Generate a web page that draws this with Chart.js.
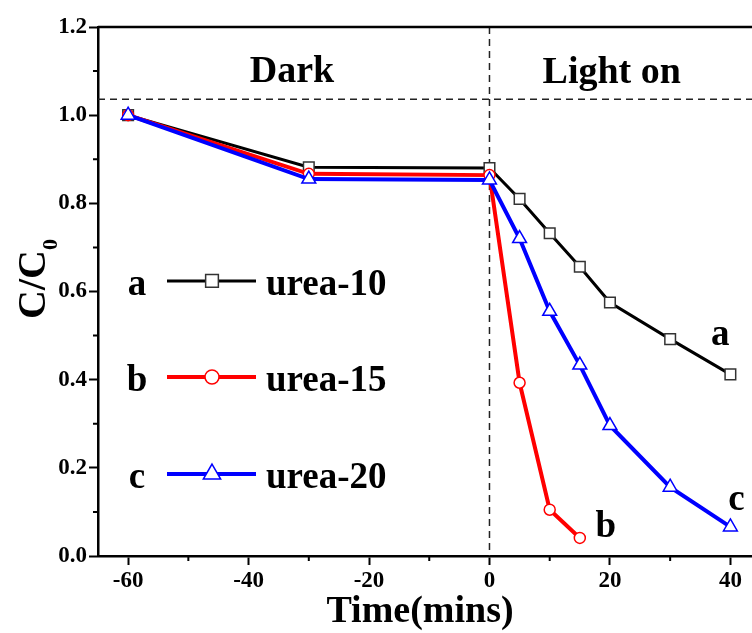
<!DOCTYPE html>
<html>
<head>
<meta charset="utf-8">
<script src="https://cdn.jsdelivr.net/npm/chart.js@4"></script>
<style>
  html, body { margin: 0; padding: 0; background: #fff; overflow: hidden; }
  #wrap { width: 770px; height: 633px; }
</style>
</head>
<body>
<div id="wrap"><canvas id="chart" width="770" height="633"></canvas></div>
<script>
// data (time in minutes, C/C0)
const timesA = [-60, -30, 0, 5, 10, 15, 20, 30, 40];
const urea10 = [1.0, 0.882, 0.880, 0.810, 0.732, 0.656, 0.575, 0.492, 0.412];

const timesB = [-60, -30, 0, 5, 10, 15];
const urea15 = [1.0, 0.867, 0.864, 0.393, 0.105, 0.041];

const timesC = [-60, -30, 0, 5, 10, 15, 20, 30, 40];
const urea20 = [1.0, 0.855, 0.853, 0.720, 0.555, 0.433, 0.296, 0.156, 0.066];

const xTicks = [-60, -40, -20, 0, 20, 40];
const xMinor = [-50, -30, -10, 10, 30];
const yTicks = [0, 0.2, 0.4, 0.6, 0.8, 1.0, 1.2];
const yMinor = [0.1, 0.3, 0.5, 0.7, 0.9, 1.1];

const seriesNames = ['urea-10', 'urea-15', 'urea-20'];
const seriesLetters = ['a', 'b', 'c'];
const darkLightLevel = 1.036;

const SERIF = '"Liberation Serif", "Times New Roman", serif';

function pts(xs, ys) {
    return xs.map((x, i) => ({ x: x, y: ys[i] }));
}

const datasets = [
    {
        label: seriesNames[0],
        data: pts(timesA, urea10),
        borderColor: '#000',
        borderWidth: 3,
        pointStyle: 'rect',
        pointRadius: 7.5,
        pointBackgroundColor: '#fff',
        pointBorderColor: '#333',
        pointBorderWidth: 1.5,
        order: 2
    },
    {
        label: seriesNames[1],
        data: pts(timesB, urea15),
        borderColor: '#ff0000',
        borderWidth: 4,
        pointStyle: 'circle',
        pointRadius: 5.5,
        pointBackgroundColor: '#fff',
        pointBorderColor: '#ff0000',
        pointBorderWidth: 1.5,
        order: 1
    },
    {
        label: seriesNames[2],
        data: pts(timesC, urea20),
        borderColor: '#0000ff',
        borderWidth: 4,
        pointStyle: 'triangle',
        pointRadius: 8,
        pointBackgroundColor: '#fff',
        pointBorderColor: '#0000ff',
        pointBorderWidth: 1.5,
        order: 0
    }
];

const legendRadius = [9, 7, 10];

const decorations = {
    id: 'decorations',
    beforeDatasetsDraw(chart) {
        const { ctx, chartArea: a, scales: { x, y } } = chart;
        ctx.save();
        ctx.strokeStyle = '#222';
        ctx.lineWidth = 1.5;
        ctx.setLineDash([7, 5]);
        const hy = y.getPixelForValue(darkLightLevel);
        ctx.beginPath();
        ctx.moveTo(a.left, hy);
        ctx.lineTo(a.right, hy);
        const vx = x.getPixelForValue(0);
        ctx.moveTo(vx, a.top);
        ctx.lineTo(vx, a.bottom);
        ctx.stroke();
        ctx.restore();
    },
    afterDraw(chart) {
        const { ctx, chartArea: a, scales: { x, y } } = chart;
        ctx.save();

        // frame top + right
        ctx.strokeStyle = '#000';
        ctx.lineWidth = 2.5;
        ctx.beginPath();
        ctx.moveTo(a.left, a.top);
        ctx.lineTo(a.right, a.top);
        ctx.lineTo(a.right, a.bottom);
        ctx.stroke();

        // minor ticks
        ctx.lineWidth = 2;
        ctx.beginPath();
        yMinor.forEach(v => {
            const py = y.getPixelForValue(v);
            ctx.moveTo(a.left - 5, py);
            ctx.lineTo(a.left, py);
        });
        xMinor.forEach(v => {
            const px = x.getPixelForValue(v);
            ctx.moveTo(px, a.bottom);
            ctx.lineTo(px, a.bottom + 5);
        });
        ctx.stroke();

        ctx.fillStyle = '#000';

        // region labels
        ctx.font = 'bold 38px ' + SERIF;
        ctx.textAlign = 'center';
        ctx.textBaseline = 'alphabetic';
        ctx.fillText('Dark', x.getPixelForValue(-32.8), y.getPixelForValue(1.075));
        ctx.fillText('Light on', x.getPixelForValue(20.3), y.getPixelForValue(1.072));

        // curve letters
        ctx.font = 'bold 37px ' + SERIF;
        ctx.fillText('a', x.getPixelForValue(38.3), y.getPixelForValue(0.479));
        ctx.fillText('b', x.getPixelForValue(19.3), y.getPixelForValue(0.044));
        ctx.fillText('c', x.getPixelForValue(41.0), y.getPixelForValue(0.105));

        // legend
        const rows = [0.624, 0.406, 0.186];
        rows.forEach((lv, i) => {
            const ds = datasets[i];
            const ry = y.getPixelForValue(lv);
            ctx.font = 'bold 37px ' + SERIF;
            ctx.textAlign = 'center';
            ctx.fillStyle = '#000';
            ctx.fillText(seriesLetters[i], a.left + 39, ry + 14);
            ctx.strokeStyle = ds.borderColor;
            ctx.lineWidth = ds.borderWidth;
            ctx.setLineDash([]);
            ctx.beginPath();
            ctx.moveTo(a.left + 69, ry);
            ctx.lineTo(a.left + 158, ry);
            ctx.stroke();
            ctx.fillStyle = '#fff';
            ctx.strokeStyle = ds.pointBorderColor;
            ctx.lineWidth = 1.5;
            Chart.helpers.drawPoint(ctx, {
                pointStyle: ds.pointStyle,
                radius: legendRadius[i],
                rotation: 0,
                borderWidth: 1.5
            }, a.left + 114, ry);
            ctx.fillStyle = '#000';
            ctx.textAlign = 'left';
            ctx.fillText(seriesNames[i], a.left + 168, ry + 14);
        });

        // axis titles
        ctx.font = 'bold 38px ' + SERIF;
        ctx.textAlign = 'center';
        ctx.fillText('Time(mins)', 420, 622);

        ctx.translate(45, 279);
        ctx.rotate(-Math.PI / 2);
        ctx.font = 'bold 40px ' + SERIF;
        const w1 = ctx.measureText('C/C').width;
        ctx.font = 'bold 22px ' + SERIF;
        const w2 = ctx.measureText('0').width;
        const start = -(w1 + w2) / 2;
        ctx.textAlign = 'left';
        ctx.font = 'bold 40px ' + SERIF;
        ctx.fillText('C/C', start, 0);
        ctx.font = 'bold 22px ' + SERIF;
        ctx.fillText('0', start + w1, 12);

        ctx.restore();
    }
};

new Chart(document.getElementById('chart'), {
    type: 'line',
    data: { datasets: datasets },
    options: {
        responsive: false,
        animation: false,
        layout: { padding: { left: 0, top: 27, right: 8, bottom: 0 } },
        plugins: {
            legend: { display: false },
            tooltip: { enabled: false }
        },
        scales: {
            x: {
                type: 'linear',
                min: -65,
                max: 45,
                afterBuildTicks: s => { s.ticks = xTicks.map(v => ({ value: v })); },
                afterFit: s => { s.height = 77; },
                border: { display: true, color: '#000', width: 2.5 },
                grid: { drawOnChartArea: false, drawTicks: true, tickLength: 9, tickWidth: 2, tickColor: '#000' },
                ticks: {
                    color: '#000',
                    padding: 2,
                    maxRotation: 0,
                    font: { family: SERIF, size: 23, weight: 'bold' },
                    callback: v => String(v)
                }
            },
            y: {
                type: 'linear',
                min: 0,
                max: 1.2,
                afterBuildTicks: s => { s.ticks = yTicks.map(v => ({ value: v })); },
                afterFit: s => { s.width = 98; },
                border: { display: true, color: '#000', width: 2.5 },
                grid: { drawOnChartArea: false, drawTicks: true, tickLength: 9, tickWidth: 2, tickColor: '#000' },
                ticks: {
                    color: '#000',
                    padding: 2,
                    font: { family: SERIF, size: 23, weight: 'bold' },
                    callback: v => v.toFixed(1)
                }
            }
        }
    },
    plugins: [decorations]
});
</script>
</body>
</html>
